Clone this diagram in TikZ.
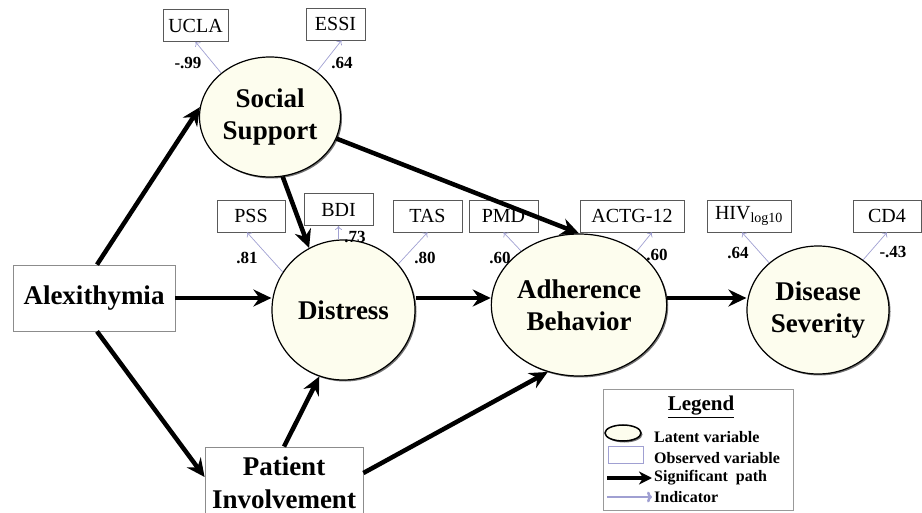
\documentclass[tikz,border=0pt]{standalone}
\usepackage{fontspec}
\setmainfont{Liberation Serif}
\usepackage{tikz}
\usetikzlibrary{arrows.meta,calc,shapes.geometric,shadows}
\definecolor{ivory}{RGB}{253,253,238}
\definecolor{lav}{RGB}{160,160,210}

\begin{document}
\begin{tikzpicture}[x=1pt,y=-1pt,
    latent/.style={ellipse,draw,line width=1.2pt,fill=ivory,inner sep=0pt,align=center,
      font=\fontsize{27}{32}\selectfont\bfseries,
      drop shadow={shadow xshift=1.5pt,shadow yshift=-1.5pt,fill=black!55,opacity=1}},
    obs/.style={draw=black!65,line width=0.8pt,fill=white,minimum height=32pt,inner sep=0pt,
      font=\fontsize{20}{24}\selectfont},
    manifest/.style={draw=black!45,line width=0.8pt,fill=white,align=center,
      font=\fontsize{27}{33}\selectfont\bfseries},
    sig/.style={line width=4.5pt,-{Stealth[length=18pt,width=17pt,inset=6pt]}},
    ind/.style={lav,line width=0.7pt,-{To[length=4pt,width=7pt]}},
    load/.style={font=\fontsize{17}{20}\selectfont\bfseries},
    leg/.style={anchor=west,inner sep=0pt,font=\fontsize{16}{19}\selectfont\bfseries}]
  \useasboundingbox (0,0) rectangle (922,513);
  \clip (0,0) rectangle (922,513);

  \node[latent,minimum width=141pt,minimum height=120pt] (ss) at (270,117) {Social\\Support};
  \node[latent,minimum width=143pt,minimum height=140pt] (dis) at (343.5,310) {Distress};
  \node[latent,minimum width=142pt,minimum height=142pt] (adh) at (579,305) {Adherence\\Behavior};
  \node[latent,minimum width=142pt,minimum height=128pt] (dsv) at (818,310) {Disease\\Severity};
  \node[manifest,minimum width=162pt,minimum height=66pt] (alex) at (94,298) {Alexithymia};
  \node[manifest,minimum width=158pt,minimum height=72pt] (pi) at (284,483) {Patient\\Involvement};

  \node[obs,minimum width=65pt] (ucla) at (195.5,25.5) {UCLA};
  \node[obs,minimum width=59pt] (essi) at (335.5,24) {ESSI};
  \node[obs,minimum width=68pt] (pss) at (251,216) {PSS};
  \node[obs,minimum width=69pt] (bdi) at (338.5,209.5) {BDI};
  \node[obs,minimum width=69pt] (tas) at (427.5,216) {TAS};
  \node[obs,minimum width=69pt] (pmd) at (503.5,216) {PMD};
  \node[obs,minimum width=104pt] (actg) at (632,216) {ACTG-12};
  \node[obs,minimum width=84pt] (hiv) at (749,216) {HIV\textsubscript{log10}};
  \node[obs,minimum width=68pt] (cd4) at (887,216) {CD4};

  \draw[ind] (ss.138) -- (ucla.south);
  \draw[ind] (ss.44) -- ([xshift=6pt]essi.south);
  \draw[ind] (dis.148) -- ([xshift=-4pt]pss.south);
  \draw[ind] (bdi.south |- dis.north) -- (bdi.south);
  \draw[ind] (dis.40) -- (tas.south);
  \draw[ind] (adh.137) -- (pmd.south);
  \draw[ind] (adh.43) -- ([xshift=20pt]actg.south);
  \draw[ind] (dsv.136) -- ([xshift=-7pt]hiv.south);
  \draw[ind] (dsv.48) -- (cd4.south);

  \node[load] (l1) at (188,63) {-.99};
  \node[load] (l2) at (342,63) {.64};
  \node[load] (l3) at (247,258) {.81};
  \node[load] (l4) at (355,237) {.73};
  \node[load] (l5) at (425,258) {.80};
  \node[load] (l6) at (500,258) {.60};
  \node[load] (l7) at (657,255) {.60};
  \node[load] (l8) at (738,253) {.64};
  \node[load] (l9) at (893,252) {-.43};

  \draw[sig] ([xshift=3pt]alex.north) -- (ss.172);
  \draw[sig] (alex.east) -- (alex.east -| dis.west);
  \draw[sig] ([xshift=3pt]alex.south) -- ([yshift=6pt]pi.west);
  \draw[sig] (ss.282) -- (dis.119);
  \draw[sig] (ss.342) -- (adh.north);
  \draw[sig] (alex.east -| dis.east) -- (alex.east -| adh.west);
  \draw[sig] (alex.east -| adh.east) -- (alex.east -| dsv.west);
  \draw[sig] (pi.north) -- (dis.250);
  \draw[sig] ([yshift=10pt]pi.east) -- (adh.245);

  \node[draw=black!40,line width=0.8pt,minimum width=190pt,minimum height=121pt] (legbox) at (698,449.5) {};
  \node[font=\fontsize{21}{24}\selectfont\bfseries] (legt) at (701,407) {\underline{Legend}};
  \node[latent,minimum width=36pt,minimum height=16pt,line width=1.5pt] (legell) at (623,433) {};
  \node[draw=lav,line width=0.8pt,minimum width=35pt,minimum height=17pt] (legrec) at (625.5,454.5) {};
  \coordinate (la) at (607,478);
  \coordinate (lb) at (652,478);
  \coordinate (lc) at (607,497);
  \coordinate (ld) at (652,497);
  \draw[line width=3.5pt,-{Stealth[length=13pt,width=13pt,inset=4pt]}] (la) -- (lb);
  \draw[lav,line width=2.5pt,-{To[length=5pt,width=11pt]}] (lc) -- (ld);
  \node[leg] (t1) at (654,437) {Latent variable};
  \node[leg] (t2) at (654,458) {Observed variable};
  \node[leg] (t3) at (654,478) {Significant\ \ path};
  \node[leg] (t4) at (654,497) {Indicator};
\end{tikzpicture}
\end{document}
